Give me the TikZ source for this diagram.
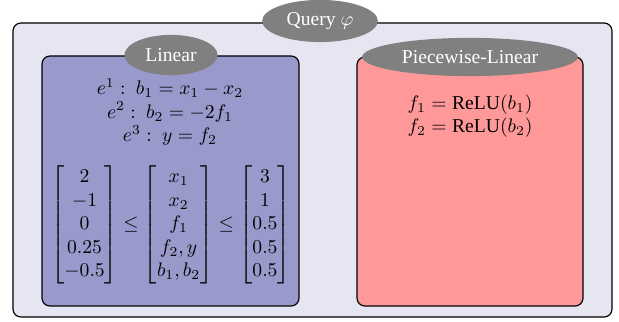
\documentclass[tikz,border=0pt]{standalone}
\usepackage{amsmath}
\usepackage[no-math]{fontspec}
\setmainfont{Liberation Serif}
\usetikzlibrary{shapes.geometric}
\definecolor{querybg}{RGB}{230,230,242}
\definecolor{linearbg}{RGB}{153,153,204}
\definecolor{pwlbg}{RGB}{255,153,153}
\definecolor{taggray}{RGB}{128,128,128}
\begin{document}
\begin{tikzpicture}[x=0.51pt, y=-0.51pt,
        part/.style={draw, line width=0.6pt, rounded corners=4pt},
        tag/.style={ellipse, fill=taggray, text=white, inner sep=0pt}]
    \useasboundingbox (0,0) rectangle (619,322);
    % outer query box
    \draw[part, fill=querybg] (13,23) rectangle (612,317);
    \node[tag, minimum width=59pt, minimum height=21.5pt] (query) at (320,21) {Query $\varphi$};
    % linear part
    \draw[part, fill=linearbg] (42,56) rectangle (299,306);
    \node[tag, minimum width=47.5pt, minimum height=20.5pt] (lin) at (171,55) {Linear};
    \node[align=center] (eqs) at (170,112) {$e^1:\ b_1 = x_1 - x_2$\\ $e^2:\ b_2 = -2f_1$\\ $e^3:\ y = f_2$};
    \node (bounds) at (171,225) {$\begin{bmatrix} 2\\ -1\\ 0\\ 0.25\\ -0.5 \end{bmatrix} \leq
        \begin{bmatrix} x_1\\ x_2\\ f_1\\ f_2, y\\ b_1, b_2 \end{bmatrix} \leq
        \begin{bmatrix} 3\\ 1\\ 0.5\\ 0.5\\ 0.5 \end{bmatrix}$};
    % piecewise-linear part
    \draw[part, fill=pwlbg] (357,57) rectangle (583,306);
    \node[tag, minimum width=110pt, minimum height=19.5pt] (pwl) at (470,57) {Piecewise-Linear};
    \node[align=center] (relus) at (470,116) {$f_1 = \text{ReLU}(b_1)$\\ $f_2 = \text{ReLU}(b_2)$};
\end{tikzpicture}
\end{document}
